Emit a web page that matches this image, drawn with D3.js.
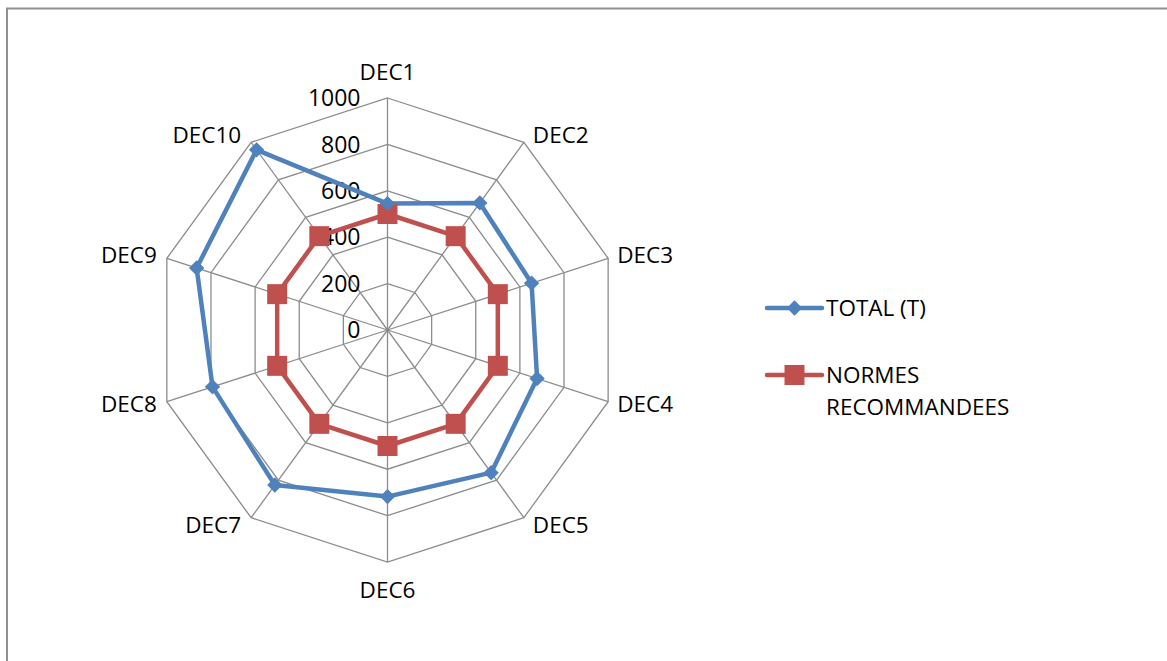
<!DOCTYPE html>
<html>
<head>
<meta charset="utf-8">
<script src="https://cdn.jsdelivr.net/npm/d3@7"></script>
<style>
  html, body { margin: 0; padding: 0; background: #fff; }
  svg { display: block; font-family: "Open Sans", "Liberation Sans", sans-serif; }
</style>
</head>
<body>
<svg id="chart" width="1167" height="661"></svg>
<script>
// Decades shown around the radar
const categories = ["DEC1", "DEC2", "DEC3", "DEC4", "DEC5", "DEC6", "DEC7", "DEC8", "DEC9", "DEC10"];
// Series values
const totalValues = [545, 677, 653, 678, 760, 718, 826, 793, 865, 960];
const normesValues = [500, 500, 500, 500, 500, 500, 500, 500, 500, 500];
// Radial ticks
const tickValues = [0, 200, 400, 600, 800, 1000];
const seriesNames = ["TOTAL (T)", "NORMES RECOMMANDEES"];

const svg = d3.select("#chart");
const cx = 387.5, cy = 330;
const R = 232;
const blue = "#4F81BD", red = "#C0504D", grid = "#8C8C8C";
const fontSize = 22.5;

// Outer frame
svg.append("rect")
  .attr("x", 7).attr("y", 8.5)
  .attr("width", 1200).attr("height", 700)
  .attr("fill", "none").attr("stroke", "#8f8f8f").attr("stroke-width", 2);

const r = d3.scaleLinear().domain([0, 1000]).range([0, R]);
const angle = d3.scaleLinear().domain([0, categories.length]).range([0, 2 * Math.PI]);
const pt = (i, v) => [cx + r(v) * Math.sin(angle(i)), cy - r(v) * Math.cos(angle(i))];

const g = svg.append("g");

// Grid rings (polygons)
tickValues.filter(t => t > 0).forEach(t => {
  const pts = categories.map((c, i) => pt(i, t));
  g.append("path")
    .attr("d", d3.line()(pts) + "Z")
    .attr("fill", "none").attr("stroke", grid).attr("stroke-width", 1.3);
});

// Spokes
categories.forEach((c, i) => {
  const [x, y] = pt(i, 1000);
  g.append("line")
    .attr("x1", cx).attr("y1", cy).attr("x2", x).attr("y2", y)
    .attr("stroke", grid).attr("stroke-width", 1.3);
});

// Radial tick labels
g.selectAll("text.tick").data(tickValues).join("text")
  .attr("class", "tick")
  .attr("x", cx - 27)
  .attr("y", d => cy - r(d))
  .attr("dy", "0.36em")
  .attr("text-anchor", "end")
  .attr("font-size", 23)
  .attr("fill", "#000")
  .text(d => d);

// Category labels
categories.forEach((c, i) => {
  const a = angle(i);
  const s = Math.sin(a), co = Math.cos(a);
  const [x, y] = pt(i, 1000);
  let anchor = "middle", dx = 0, dy = 0;
  if (Math.abs(s) < 0.01) {
    dy = co > 0 ? -26 : 28;
  } else {
    anchor = s > 0 ? "start" : "end";
    dx = s > 0 ? 9 : -10;
    dy = co > 0.5 ? -7 : (co < -0.5 ? 7 : (co > 0 ? -3.5 : 2.5));
  }
  g.append("text")
    .attr("x", x + dx).attr("y", y + dy)
    .attr("dy", "0.36em")
    .attr("text-anchor", anchor)
    .attr("font-size", fontSize)
    .attr("fill", "#000")
    .text(c);
});

const lineGen = d3.line();

// Series lines
function drawSeries(values, color) {
  const pts = values.map((v, i) => pt(i, v));
  g.append("path")
    .attr("d", lineGen(pts) + "Z")
    .attr("fill", "none").attr("stroke", color)
    .attr("stroke-width", 4.5).attr("stroke-linejoin", "round");
  return pts;
}

const redPts = drawSeries(normesValues, red);
const bluePts = drawSeries(totalValues, blue);

const diamond = d3.symbol().type(d3.symbolDiamond2).size(150);
const square = d3.symbol().type(d3.symbolSquare).size(400);

g.selectAll("path.sq").data(redPts).join("path")
  .attr("class", "sq")
  .attr("transform", d => `translate(${d[0]},${d[1]})`)
  .attr("d", square).attr("fill", red);

g.selectAll("path.dm").data(bluePts).join("path")
  .attr("class", "dm")
  .attr("transform", d => `translate(${d[0]},${d[1]})`)
  .attr("d", diamond).attr("fill", blue);

// Legend
const leg = svg.append("g");
const lx0 = 767, lx1 = 822, ly = [308, 375];
[blue, red].forEach((col, k) => {
  leg.append("line")
    .attr("x1", lx0).attr("x2", lx1).attr("y1", ly[k]).attr("y2", ly[k])
    .attr("stroke", col).attr("stroke-width", 4.5).attr("stroke-linecap", "round");
  leg.append("path")
    .attr("transform", `translate(${(lx0 + lx1) / 2},${ly[k]})`)
    .attr("d", k === 0 ? diamond : square)
    .attr("fill", col);
});
leg.append("text")
  .attr("x", 826).attr("y", ly[0]).attr("dy", "0.36em")
  .attr("font-size", fontSize).text(seriesNames[0]);
const t2 = leg.append("text")
  .attr("x", 826).attr("y", ly[1]).attr("dy", "0.36em")
  .attr("font-size", fontSize);
t2.append("tspan").attr("x", 826).text("NORMES");
t2.append("tspan").attr("x", 826).attr("dy", 32).text("RECOMMANDEES");
</script>
</body>
</html>
